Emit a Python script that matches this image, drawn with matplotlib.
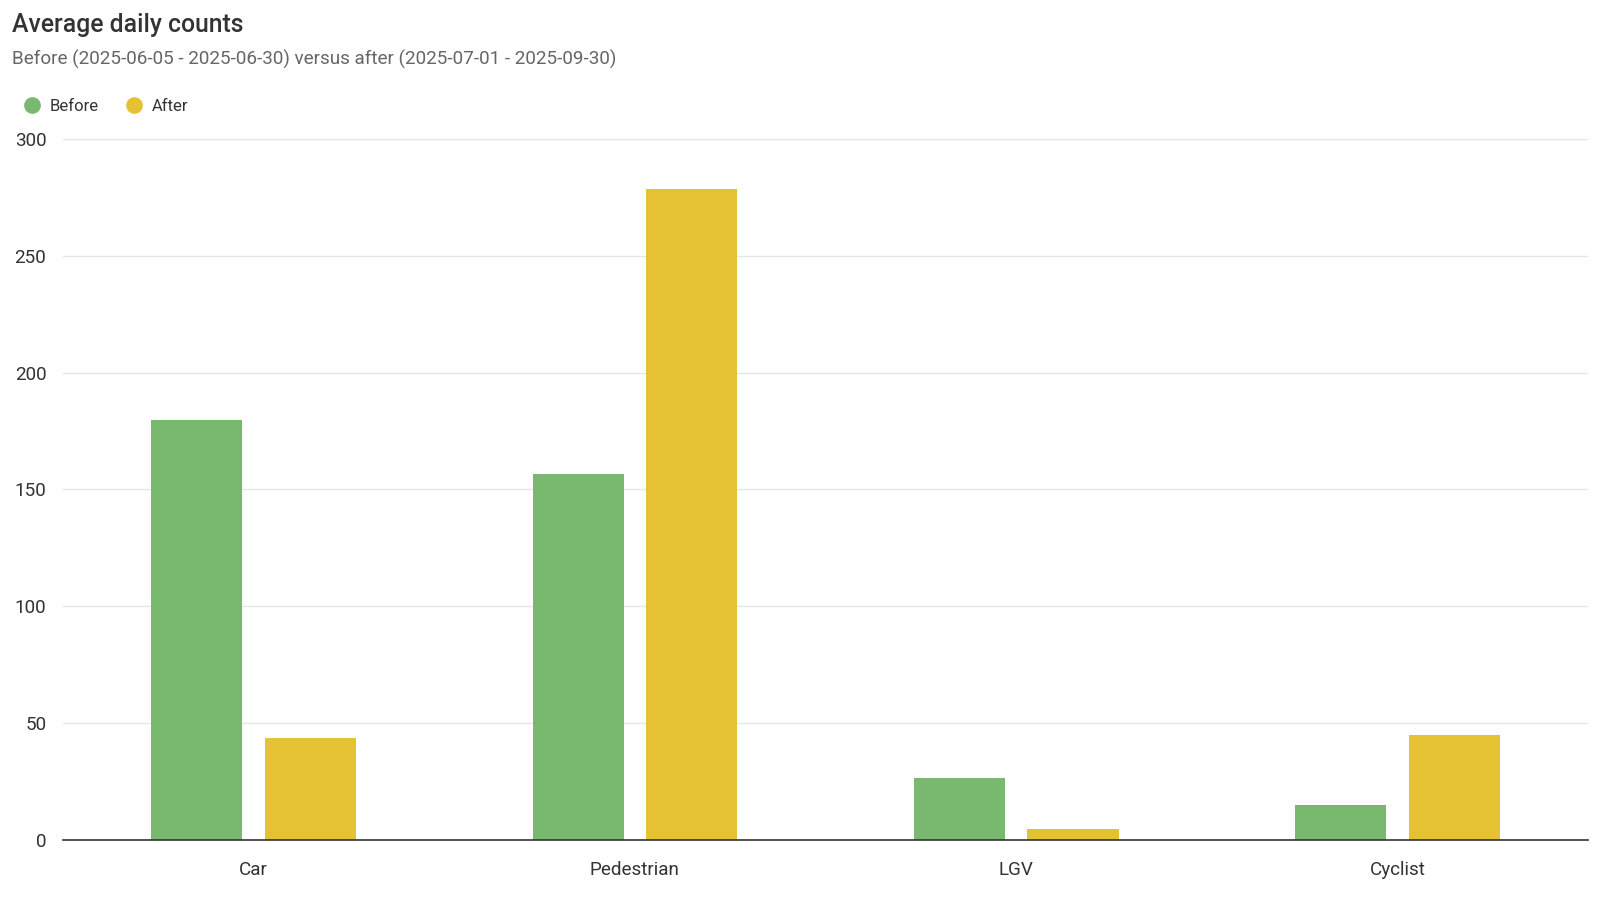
import matplotlib.pyplot as plt
import numpy as np
from matplotlib.lines import Line2D

plt.rcParams['font.family'] = ['Roboto', 'DejaVu Sans']

categories = ['Car', 'Pedestrian', 'LGV', 'Cyclist']
before = [179.7, 156.6, 26.7, 15.0]
after = [43.7, 278.6, 4.7, 45.0]

green = '#78b86f'
yellow = '#e4c233'

fig = plt.figure(figsize=(16, 9), dpi=100)
ax = fig.add_axes([0.0394, 0.0667, 0.9531, 0.779])

x = np.arange(len(categories))
w = 0.239
ax.bar(x - 0.149, before, width=w, color=green, zorder=3)
ax.bar(x + 0.149, after, width=w, color=yellow, zorder=3)

ax.set_xlim(-0.5, len(categories) - 0.5)
ax.set_ylim(0, 300)
ax.set_yticks([0, 50, 100, 150, 200, 250, 300])
ax.set_xticks(x)
ax.set_xticklabels(categories)
ax.tick_params(axis='both', length=0, labelsize=13.6, colors='#333333')
ax.tick_params(axis='x', pad=15)
ax.tick_params(axis='y', pad=12)
ax.grid(axis='y', color='#e6e6e6', linewidth=1, zorder=0)

for s in ['top', 'right', 'left']:
    ax.spines[s].set_visible(False)
ax.spines['bottom'].set_color('#333333')
ax.spines['bottom'].set_linewidth(1.2)
ax.spines['bottom'].set_zorder(4)

# title and subtitle
fig.text(0.0075, 0.972, 'Average daily counts', fontsize=17.8, color='#333333',
         fontweight='medium', va='center', ha='left')
fig.text(0.0075, 0.934, 'Before (2025-06-05 - 2025-06-30) versus after (2025-07-01 - 2025-09-30)',
         fontsize=13.6, color='#666666', va='center', ha='left')

# legend
handles = [Line2D([0], [0], marker='o', linestyle='', markersize=11, color=green),
           Line2D([0], [0], marker='o', linestyle='', markersize=11, color=yellow)]
fig.legend(handles, ['Before', 'After'], loc='center left', bbox_to_anchor=(0.0, 0.882),
           ncol=2, frameon=False, fontsize=12, handletextpad=0.05, columnspacing=1.15,
           labelcolor='#333333')

fig.savefig('out.png', dpi=100)
